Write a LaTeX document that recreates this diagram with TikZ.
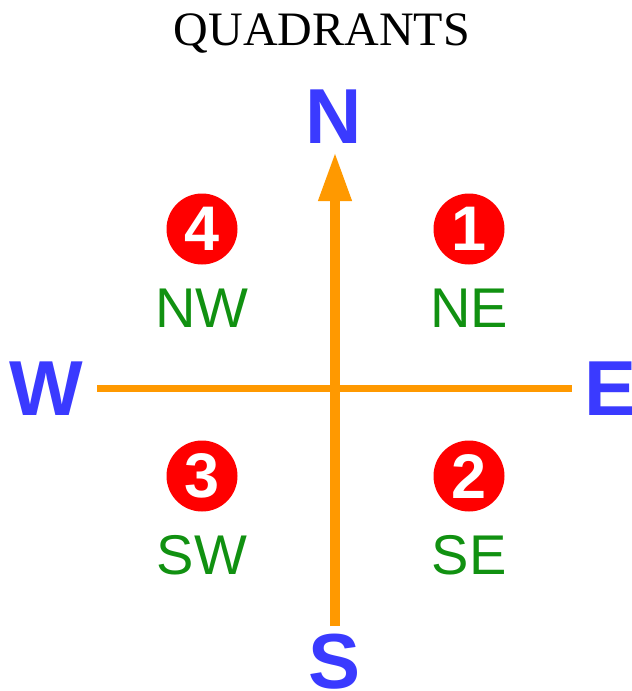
\documentclass[tikz,border=0pt]{standalone}
\usepackage{fontspec}
\setmainfont{Liberation Serif}
\setsansfont{Liberation Sans}
\usetikzlibrary{arrows.meta,positioning}
\definecolor{compass}{RGB}{58,58,255}
\definecolor{axis}{RGB}{255,153,0}
\definecolor{zone}{RGB}{17,145,17}
\definecolor{badge}{RGB}{255,0,0}
\newcommand{\cardinal}[3]{\node[cardinal] (#1) at (#2) {#3}}
\newcommand{\quadrant}[4]{\node[badge] (num#1) at (#2) {#3};
	\node[zone, below=79pt of num#1.center, anchor=center] (lab#1) {#4}}
\tikzset{
	epaisV/.style={line width=10pt},
	epaisH/.style={line width=7pt},
	cardinal/.style={font=\sffamily\bfseries\fontsize{78}{78}\selectfont, text=compass, inner sep=0pt},
	badge/.style={circle, fill=badge, minimum size=71pt, inner sep=0pt,
		font=\sffamily\bfseries\fontsize{63}{63}\selectfont, text=white},
	zone/.style={font=\sffamily\fontsize{56}{56}\selectfont, text=zone, inner sep=0pt},
}

\begin{document}
\begin{tikzpicture}[x=1pt, y=-1pt]
\useasboundingbox (0,0) rectangle (632,691);
%Title
	\node[font=\fontsize{48}{48}\selectfont, inner sep=0pt] (title) at (322,33) {QUADRANTS};
%Axes
	\coordinate (top) at (335,152);
	\coordinate (bottom) at (335,626);
	\coordinate (left) at (97,388);
	\coordinate (right) at (572,388);
	\draw[axis, epaisH] (left) -- (right);
	\draw[axis, epaisV, -{Triangle[length=49pt, width=31pt]}] (bottom) -- (top);
%Cardinal points
	\cardinal{n}{334,117}{N};
	\cardinal{w}{46,389}{W};
	\cardinal{e}{611,389}{E};
	\cardinal{s}{335,662}{S};
%The four quadrants
	\quadrant{1}{469,229}{1}{NE};
	\quadrant{2}{469,476}{2}{SE};
	\quadrant{3}{202,476}{3}{SW};
	\quadrant{4}{202,229}{4}{NW};
\end{tikzpicture}
\end{document}
